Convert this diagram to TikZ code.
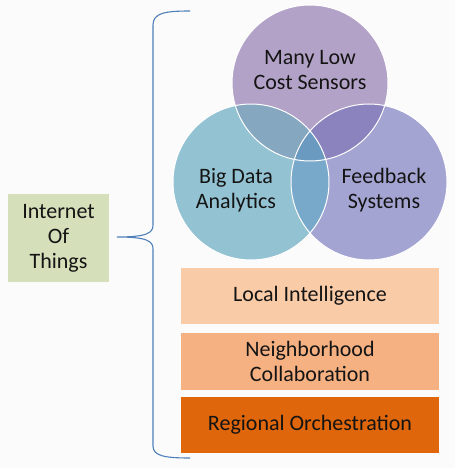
\documentclass[tikz,border=0pt]{standalone}
\usepackage{fontspec}
\setmainfont{Carlito}
\definecolor{bgc}{HTML}{FBFBFB}
\definecolor{iotc}{HTML}{D5DFB9}
\definecolor{tc}{HTML}{B3A2C7}
\definecolor{lc}{HTML}{93C2D2}
\definecolor{rc}{HTML}{A4A4D3}
\definecolor{tlc}{HTML}{85A7BF}
\definecolor{trc}{HTML}{8B83BE}
\definecolor{lrc}{HTML}{79A9CA}
\definecolor{tlrc}{HTML}{6B9AC0}
\definecolor{b1c}{HTML}{F9CBA7}
\definecolor{b2c}{HTML}{F5B182}
\definecolor{b3c}{HTML}{E0660B}
\definecolor{bracec}{HTML}{4F7FBA}
\begin{document}
\begin{tikzpicture}[x=1pt,y=-1pt,
  lbl/.style={font=\fontsize{22}{25}\selectfont, align=center, text=black!92},
  layer/.style={lbl, minimum width=258pt, inner sep=0pt, draw=none},
]
\useasboundingbox[fill=bgc] (0,0) rectangle (455,468);
\def\T{(310,83) circle (78)}
\def\L{(251,182) circle (78)}
\def\R{(369,182) circle (78)}
% circles
\fill[tc] \T;
\fill[lc] \L;
\fill[rc] \R;
\begin{scope}\clip \T; \fill[tlc] \L; \fill[trc] \R; \end{scope}
\begin{scope}\clip \L; \fill[lrc] \R; \end{scope}
\begin{scope}\clip \T; \clip \L; \fill[tlrc] \R; \end{scope}
\draw[white, line width=1pt] \T \L \R;
\node[lbl] (sens) at (310,70) {Many Low\\Cost Sensors};
\node[lbl] (bigd) at (236,190) {Big Data\\Analytics};
\node[lbl] (feed) at (384,190) {Feedback\\Systems};
% layers
\node[layer, fill=b1c, minimum height=56pt] (loc) at (310,296) {Local Intelligence};
\node[layer, fill=b2c, minimum height=57pt] (nei) at (310,361) {Neighborhood\\Collaboration};
\node[layer, fill=b3c, minimum height=56pt] (reg) at (310,425) {Regional Orchestration};
% IoT box
\node[lbl, fill=iotc, minimum width=101pt, minimum height=88pt, inner sep=0pt] (iot) at (58.5,238) {Internet\\Of\\Things};
% brace
\coordinate (btop) at (190,11);
\coordinate (btip) at (117,237);
\coordinate (bbot) at (190,458);
\draw[bracec, line width=1.1pt] (btop) .. controls (165,11) and (153,13) .. (153,25) -- (153,225)
  .. controls (153,233) and (147,237) .. (btip)
  .. controls (147,237) and (153,241) .. (153,249) -- (153,446)
  .. controls (153,456) and (165,458) .. (bbot);
\end{tikzpicture}
\end{document}
